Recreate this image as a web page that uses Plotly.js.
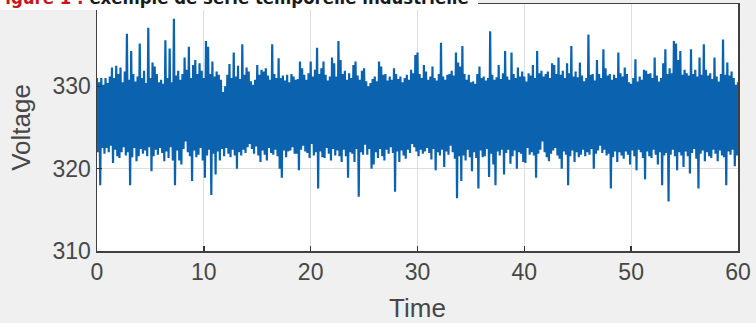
<!DOCTYPE html>
<html>
<head>
<meta charset="utf-8">
<script src="https://cdn.plot.ly/plotly-3.0.1.min.js"></script>
<style>
  html, body { margin: 0; padding: 0; background: #f0f0f0; }
  #chart { width: 756px; height: 323px; }
</style>
</head>
<body>
<div id="chart"></div>
<script>
// Sampling step of the recorded signal (seconds)
const sampleStep = 0.1;

// Upper excursions (local maxima), every 0.2 s, per 10-second block
const peaks00_10 = [331,330.5,331,330.2,331,330.4,331.2,332.3,331,332.5,331.5,332.3,330.5,331.8,336.4,330.8,334.3,331.5,330.6,331.2,335.2,331,331.9,330.4,337.1,331,332.9,332.4,331.5,330.5,330.8,330.3,335.6,331,334.6,330.5,338.2,331.3,331.9,330.8,331.5,333.5,332,334.8,331,332.6,333.2,331.5,332.8,331.9];
const peaks10_20 = [331,335.5,334.8,331.5,333,331.2,331.8,331.4,330.8,329.3,330,331.4,332.7,331,334.1,331.2,332.5,330.9,335.1,331.4,332.3,331.8,330.6,330.2,330.8,332.6,331.4,332,331.8,332.2,331.3,330.8,335.1,331.5,331,333.4,331,331.3,330.7,331.4,330.5,331.5,331.2,330.8,330.9,333,332.2,331.4,330.8,331.6];
const peaks20_30 = [333,331.2,332,334.7,331.5,332.2,333,331.4,330.7,331.2,333.5,332.8,331.2,335.5,333.2,331.5,331.9,330.8,331.6,331,332.6,333,331.3,330.8,331.9,332.2,330.6,330,330.4,330.9,331.2,330.6,333,332.4,331.4,331.5,330.7,331.2,330.8,332.2,331.5,330.9,331.2,330.5,331,331.4,330.8,332,331.6,333.8];
const peaks30_40 = [334.1,331.5,331,332.6,331.8,330.8,331.2,332.4,331,330.7,331.5,335.3,331.2,330.8,331.4,331.5,331.9,331.3,334.1,332.9,332.4,334.9,331.5,330.8,331.4,330.5,330.6,330.3,331.5,332.4,331,331.2,330.7,331,336.7,331.4,330.8,331.1,332.6,330.9,331.6,334.3,331.2,330.8,334.1,331.5,331,332.3,331.2,331.8];
const peaks40_50 = [331.2,330.6,331.6,331.3,332.6,331,334.3,331.6,331.9,331.2,331.5,331.8,331,332.8,332.6,331.5,333.5,331.4,331.9,331,332.8,331.6,334.9,331.2,331.8,331.1,332.9,331.3,330.6,331,336.3,331.4,331.5,330.7,333.2,331.5,331,334.5,332.2,331.3,331.5,330.8,331.4,331,334.1,331.6,331.2,332.3,331.5,330.5];
const peaks50_60 = [330.3,331,333.3,330.6,331.2,330.8,332,331.9,331.5,331.6,331,333.5,331.3,330.6,331,332.8,334.5,331.5,332.2,331.6,335.5,335.2,333.2,334.3,331.4,332,331.6,331.3,334.5,331.5,332,331.2,333.5,331.4,335.1,332,331.3,331.6,330.9,333.5,331.2,330.6,331.5,335.7,331.4,332.9,331.3,331.8,331,330.2];

// Lower excursions (local minima), every 0.2 s offset by 0.1 s, per 10-second block
const troughs00_10 = [322,318,322.5,321.8,322.5,322,322.8,320.7,322.3,321.5,321.3,322,322.6,321.6,322,318,321.4,322.5,320.9,321.5,322.4,321.8,322.2,321.5,322.6,319.7,321.5,322.3,321.7,322.5,321.9,320.9,322.1,321.3,322.6,321,318,322.2,321,320.5,322.4,323.3,322,321.5,318.5,322.2,321.4,321.7,322.5,321];
const troughs10_20 = [318.9,321.6,322.3,316.8,321.8,319.3,322.1,321,322.4,321.5,322.5,321.8,321.4,322.3,321.6,320,322,321.6,322.3,321.9,322.6,323,322.4,321.8,322.7,321.6,320.8,322.2,321.7,321,322.5,321.9,321.7,322.3,321.5,320,318.9,322.2,321.4,322.1,322.2,322.6,321.8,321.8,319.8,322.3,322.8,322.1,321.9,321.3];
const troughs20_30 = [323,321.6,322,317.6,322.1,321.4,321.3,322.5,321.8,321,322.4,321.6,322.2,321.5,320.8,322.3,321.5,318.9,322,321.8,320.8,322.4,316.6,322,321.7,322.9,321.7,322.4,320,320.5,322,321.3,322.4,321.5,321,322.3,321.8,322.6,321.9,317.2,322.1,320.8,322.2,321.6,321.2,322.3,321.9,323,322.6,322.1];
const troughs30_40 = [321.5,322.3,321.8,322.1,322.5,321.9,321.1,322.4,319.8,322,321.6,322.3,320.2,322.1,321.7,322.8,322,321.2,316.4,321.5,318.5,321.6,321,322.3,321.4,319.7,322,321.3,317.6,322.2,321.4,321.5,322.4,319,321.8,320.5,318,322.1,321.6,322.3,319.3,321.9,322.3,320.6,321.5,322.2,320,322,321.8,320.8];
const troughs40_50 = [320.7,322.5,321.7,322,321.6,318.9,321.8,322.3,323.3,322,321.4,320.9,321.8,322.2,322.5,321.6,321.2,320,322.1,321.7,318,321.5,322.2,320.8,322,321.4,321.7,322.3,321.5,322,321.7,322.4,320,321.8,322.2,322.8,321.9,322.3,321.6,321.8,317.6,321.4,322.1,320.8,322,321.6,321.2,322.1,321.7,320.5];
const troughs50_60 = [322.2,321.5,319.8,322.3,322,321.3,318.7,322.1,321.5,321.3,322.3,321.7,320.5,322,318,321.6,321.9,316,321.7,322.3,321.5,319.8,322,321.6,320.2,322.1,321.5,319.4,321.9,322.4,321.2,317.6,321.8,322.2,320.9,322,321.5,321.3,322.3,321.8,320.9,322.2,321.6,321.4,318,322.1,321.7,322.3,320.3,321.6];

// Final sample at t = 60 s
const finalSample = [330.5];

// Axis ticks
const xTicks = [0, 10, 20, 30, 40, 50, 60];
const yTicks = [310, 320, 330, 340];
const yTickText = ['310', '320', '330', '340'];

// Assemble the signal: maxima and minima alternate in time
const peaks = [].concat(peaks00_10, peaks10_20, peaks20_30, peaks30_40, peaks40_50, peaks50_60);
const troughs = [].concat(troughs00_10, troughs10_20, troughs20_30, troughs30_40, troughs40_50, troughs50_60);
const voltage = [];
for (let i = 0; i < peaks.length; i++) {
  voltage.push(peaks[i]);
  voltage.push(troughs[i]);
}
voltage.push(finalSample[0]);
const time = voltage.map((_, i) => +(i * sampleStep).toFixed(2));

const plotLeft = 97, plotRight = 738, plotTop = 4, plotBottom = 251;
const pw = plotRight - plotLeft, ph = plotBottom - plotTop;
const px = v => (v - plotLeft) / pw;
const py = v => (plotBottom - v) / ph;

const trace = {
  x: time,
  y: voltage,
  type: 'scatter',
  mode: 'lines',
  line: { color: '#0b63b0', width: 2.2 },
  hoverinfo: 'skip'
};

const tickFont = { family: 'Liberation Sans, Arial, Helvetica, sans-serif', size: 23, color: '#474747' };
const titleFont = { family: 'Liberation Sans, Arial, Helvetica, sans-serif', size: 26, color: '#474747' };

const layout = {
  width: 756,
  height: 323,
  margin: { l: plotLeft, r: 756 - plotRight, t: plotTop, b: 323 - plotBottom, pad: 0 },
  paper_bgcolor: '#f0f0f0',
  plot_bgcolor: '#ffffff',
  showlegend: false,
  xaxis: {
    range: [0, 60],
    tickvals: xTicks,
    ticktext: xTicks.map(String),
    ticks: 'inside',
    ticklen: 5,
    tickwidth: 1.5,
    tickcolor: '#333333',
    showline: true,
    linecolor: '#404040',
    linewidth: 1.5,
    mirror: true,
    showgrid: true,
    gridcolor: '#dedede',
    gridwidth: 1,
    zeroline: false,
    tickfont: tickFont,
    title: { text: 'Time', font: titleFont, standoff: 16 }
  },
  yaxis: {
    range: [310, 340],
    tickvals: yTicks,
    ticktext: yTickText,
    ticks: 'inside',
    ticklen: 5,
    tickwidth: 1.5,
    tickcolor: '#333333',
    showline: true,
    linecolor: '#404040',
    linewidth: 1.5,
    mirror: true,
    showgrid: true,
    gridcolor: '#dedede',
    gridwidth: 1,
    zeroline: false,
    tickfont: tickFont,
    title: { text: 'Voltage', font: titleFont, standoff: 14 }
  },
  shapes: [
    {
      type: 'rect', xref: 'paper', yref: 'paper', layer: 'above',
      x0: px(-5), x1: px(478), y0: py(10), y1: py(-20),
      fillcolor: '#ffffff', line: { width: 0 }
    }
  ],
  annotations: [
    {
      xref: 'paper', yref: 'paper',
      x: px(-8), y: py(-2),
      xanchor: 'left', yanchor: 'middle',
      showarrow: false,
      text: '<b><span style="color:#c4161c">Figure 1 :</span> exemple de série temporelle industrielle</b>',
      font: { family: 'Liberation Sans Narrow, DejaVu Sans Condensed, Roboto Condensed, Arial Narrow, sans-serif', size: 18.4, color: '#1a1a1a' }
    }
  ]
};

Plotly.newPlot('chart', [trace], layout, { staticPlot: true, displayModeBar: false });
</script>
</body>
</html>
